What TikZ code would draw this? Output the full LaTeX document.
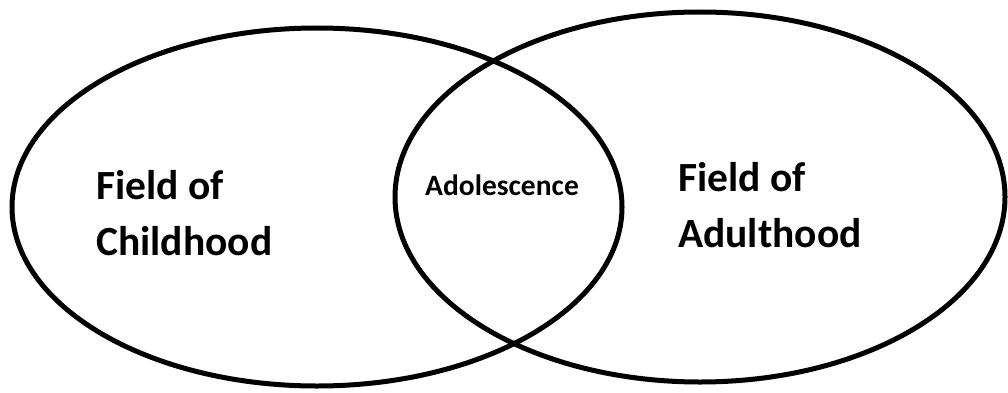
\documentclass[tikz,border=0pt]{standalone}
\usepackage{fontspec}
\setmainfont{Carlito}
\usetikzlibrary{positioning}

\begin{document}
\begin{tikzpicture}[x=1pt, y=1pt]
    % Canvas
    \fill[white] (0,0) rectangle (1008,392);
    \useasboundingbox (0,0) rectangle (1008,392);

    % Field of childhood
    \draw[black, line width=5pt] (317,185) ellipse [x radius=305, y radius=179];

    % Field of adulthood
    \draw[black, line width=5pt] (700,195) ellipse [x radius=305, y radius=185];

    % Labels (base is the second line)
    \node[anchor=base west, inner sep=0pt, align=left, font=\bfseries\fontsize{41.5}{56}\selectfont] (child) at (96,137) {Field of\\Childhood};
    \node[anchor=base west, inner sep=0pt, align=left, font=\bfseries\fontsize{41.5}{56}\selectfont] (adult) at (678,145) {Field of\\Adulthood};
    \node[anchor=base west, inner sep=0pt, font=\bfseries\fontsize{29.5}{34}\selectfont] (adol) at (425,197) {Adolescence};
\end{tikzpicture}
\end{document}
